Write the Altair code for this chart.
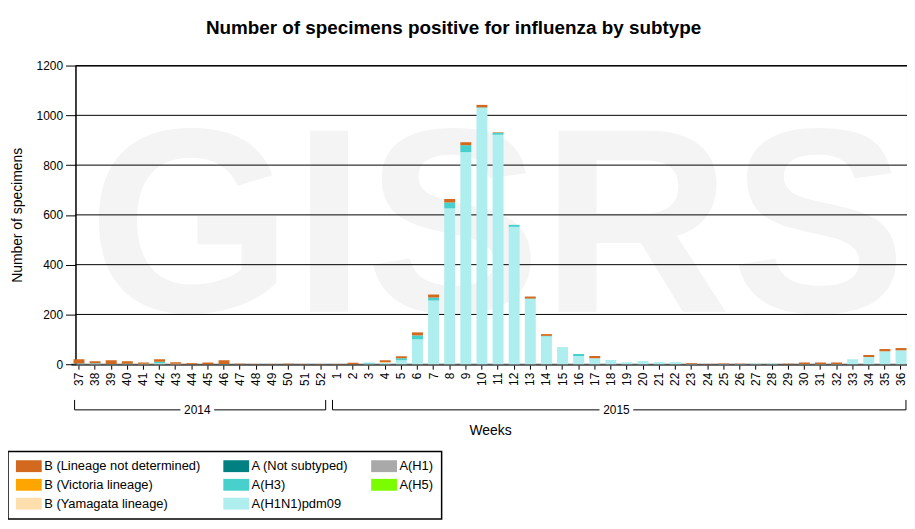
import altair as alt
import pandas as pd

# ---------------- data ----------------
weeks = [str(w) for w in list(range(37, 53)) + list(range(1, 37))]

h1n1pdm09 = [0, 2, 0, 0, 0, 4, 0, 0, 0, 0, 0, 0, 0, 0, 0, 0,
             0, 0, 3, 5, 16, 100, 256, 626, 852, 1030, 922, 552, 262, 112, 69, 33,
             24, 17, 8, 13, 9, 9, 1, 0, 1, 1, 3, 3, 0, 1, 1, 1, 20, 29, 52, 56]
h3 = [3, 2, 1, 2, 0, 6, 0, 0, 0, 1, 0, 0, 0, 0, 0, 0,
      0, 0, 3, 0, 8, 16, 12, 24, 28, 2, 8, 8, 2, 2, 0, 8,
      0, 0, 0, 0, 0, 0, 0, 0, 0, 0, 0, 0, 0, 0, 0, 0, 0, 0, 0, 0]
b_lnd = [17, 8, 15, 10, 5, 10, 6, 4, 7, 15, 2, 1, 1, 2, 1, 1,
         1, 6, 0, 8, 8, 12, 12, 14, 12, 10, 2, 0, 8, 7, 0, 0,
         9, 0, 0, 0, 0, 0, 3, 1, 2, 1, 0, 0, 2, 6, 6, 6, 0, 8, 9, 9]
b_yam = [0, 0, 0, 0, 2, 0, 2, 0, 0, 0, 0, 0, 0, 0, 0, 0,
         0, 0, 0, 3, 0, 0, 0, 0, 0, 0, 0, 0, 0, 0, 0, 0,
         0, 0, 0, 0, 0, 0, 0, 0, 0, 0, 0, 0, 0, 0, 0, 0, 0, 0, 0, 0]

# legend order (column-major, 3 columns)
legend_order = ["B (Lineage not determined)", "B (Victoria lineage)", "B (Yamagata lineage)",
                "A (Not subtyped)", "A(H3)", "A(H1N1)pdm09",
                "A(H1)", "A(H5)"]
legend_colors = ["#D2691E", "#FFA500", "#FFDEAD",
                 "#008080", "#48D1CC", "#AFEEEE",
                 "#A9A9A9", "#7CFC00"]

series = [("A(H1N1)pdm09", h1n1pdm09, 1), ("A(H3)", h3, 2),
          ("B (Yamagata lineage)", b_yam, 3), ("B (Lineage not determined)", b_lnd, 4)]

rows = []
for name, vals, ordv in series:
    for w, v in zip(weeks, vals):
        rows.append({"week": w, "subtype": name, "count": v, "ord": ordv})
df = pd.DataFrame(rows)

grid_values = [200, 400, 600, 800, 1000, 1200]
years = pd.DataFrame({"year": ["2014", "2015"], "start": ["37", "1"],
                      "mid": ["44", "18"], "end": ["52", "36"]})
watermark = pd.DataFrame({"t": ["GISRS"]})

FONT = "Liberation Sans"

xs = alt.Scale(domain=weeks, range=[-4.6, 840.1], paddingInner=0.32, paddingOuter=0.16)
ys = alt.Scale(domain=[0, 1200], nice=False)

x_axis = alt.Axis(labelAngle=-90, tickSize=5, labelPadding=3, labelFontSize=12,
                  title="Weeks", titleFontSize=14, titleFontWeight="normal",
                  titlePadding=38, domainColor="#555555", domainWidth=2,
                  tickColor="black", labelColor="black", titleColor="black", grid=False)
y_axis = alt.Axis(values=[0, 200, 400, 600, 800, 1000, 1200], format="d", tickSize=10,
                  labelPadding=3, labelFontSize=12, title="Number of specimens",
                  titleFontSize=14, titleFontWeight="normal", titlePadding=12,
                  domainColor="black", tickColor="black", labelColor="black",
                  titleColor="black", grid=False)

wm = alt.Chart(watermark).mark_text(
    font=FONT, fontWeight="bold", fontSize=265, color="#f4f4f4",
    align="center", baseline="alphabetic"
).encode(x=alt.value(425), y=alt.value(248), text="t:N")

grid = alt.Chart(pd.DataFrame({"g": grid_values})).mark_rule(color="black", strokeWidth=1).encode(
    y=alt.Y("g:Q", scale=ys, axis=y_axis)
)

bars = alt.Chart(df).mark_bar().encode(
    x=alt.X("week:N", scale=xs, axis=x_axis),
    y=alt.Y("count:Q", stack="zero", scale=ys, axis=y_axis),
    color=alt.Color("subtype:N", scale=alt.Scale(domain=legend_order, range=legend_colors),
                    legend=alt.Legend(title=None, orient="none", legendX=-68, legendY=389,
                                      columns=3, columnPadding=22, rowPadding=5, padding=8,
                                      strokeColor="black", fillColor="white",
                                      symbolType="M-2,-0.92H2V0.92H-2Z", symbolSize=169,
                                      symbolOffset=6.5, symbolStrokeWidth=0,
                                      labelFontSize=13, labelColor="black", labelLimit=400,
                                      labelOffset=9)),
    order=alt.Order("ord:Q"),
)

br_base = alt.Chart(years)
left_seg = br_base.mark_rule(color="black", x2Offset=-17).encode(
    x=alt.X("start:N", bandPosition=0.1, scale=xs, axis=x_axis),
    x2=alt.X2("mid", bandPosition=1),
    y=alt.value(347),
)
right_seg = br_base.mark_rule(color="black", xOffset=17).encode(
    x=alt.X("mid:N", bandPosition=1, scale=xs, axis=x_axis),
    x2=alt.X2("end", bandPosition=0.95),
    y=alt.value(347),
)
start_tick = br_base.mark_rule(color="black").encode(
    x=alt.X("start:N", bandPosition=0.1, scale=xs, axis=x_axis),
    y=alt.value(337), y2=alt.value(347),
)
end_tick = br_base.mark_rule(color="black").encode(
    x=alt.X("end:N", bandPosition=0.95, scale=xs, axis=x_axis),
    y=alt.value(337), y2=alt.value(347),
)
year_text = br_base.mark_text(fontSize=12, color="black", baseline="middle", align="center").encode(
    x=alt.X("mid:N", bandPosition=1, scale=xs, axis=x_axis),
    y=alt.value(347), text="year:N",
)

chart = alt.layer(wm, grid, bars, left_seg, right_seg, start_tick, end_tick, year_text).properties(
    width=838, height=301,
    title=alt.TitleParams("Number of specimens positive for influenza by subtype",
                          fontSize=19, fontWeight="bold", anchor="middle", dx=-38,
                          offset=22, color="black"),
    autosize=alt.AutoSizeParams(type="none"),
    padding={"left": 68, "top": 56, "right": 0, "bottom": 157},
).configure(font=FONT).configure_view(stroke="black", strokeWidth=1).configure_legend(strokeWidth=1.5)

chart.save("out.html", embed_options={"renderer": "svg", "actions": False})
